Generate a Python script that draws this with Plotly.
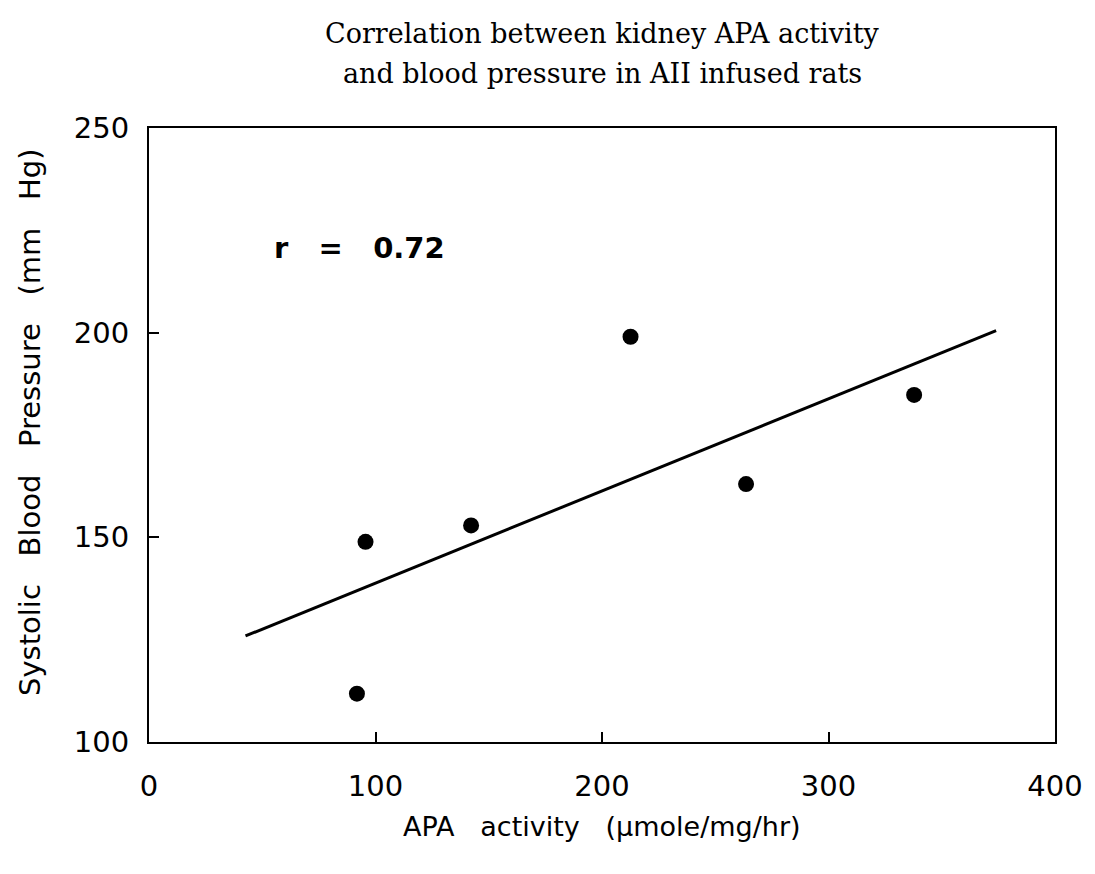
import plotly.graph_objects as go

apa_activity = [91.8, 95.6, 142.2, 212.6, 263.6, 337.8]
systolic_bp = [111.8, 148.9, 152.9, 199.0, 163.0, 184.8]
fit_x = [42.6, 374.0]
fit_y = [125.9, 200.5]
x_ticks = [0, 100, 200, 300, 400]
y_ticks = [100, 150, 200, 250]
r_label = "r   =   0.72"
title_lines = ["Correlation between kidney APA activity",
               "and blood pressure in AII infused rats"]
x_title = "APA activity (\u03bcmole/mg/hr)"
y_title = "Systolic Blood Pressure (mm Hg)"

NB = "\u00a0"

def spaced(s, n):
    return s.replace(" ", NB * n)

fig = go.Figure()
fig.add_trace(go.Scatter(x=fit_x, y=fit_y, mode="lines",
                         line=dict(color="black", width=3), showlegend=False))
fig.add_trace(go.Scatter(x=apa_activity, y=systolic_bp, mode="markers",
                         marker=dict(color="black", size=16), showlegend=False))

tickfont = dict(family="DejaVu Sans", size=29, color="black")
fig.update_layout(
    width=1095, height=874,
    margin=dict(l=149, r=37, t=128, b=132),
    paper_bgcolor="white", plot_bgcolor="white",
    xaxis=dict(range=[0, 400], tickvals=x_ticks, ticks="inside", ticklen=10,
               tickwidth=2, tickcolor="black", showline=True, mirror=True,
               linecolor="black", linewidth=2, showgrid=False, zeroline=False,
               tickfont=tickfont, ticklabelstandoff=17),
    yaxis=dict(range=[100, 250], tickvals=y_ticks, ticks="inside", ticklen=10,
               tickwidth=2, tickcolor="black", showline=True, mirror=True,
               linecolor="black", linewidth=2, showgrid=False, zeroline=False,
               tickfont=tickfont, ticklabelstandoff=12),
    annotations=[
        dict(text=title_lines[0], xref="paper", yref="paper", x=0.5, y=1.0,
             yshift=95, xanchor="center", yanchor="middle", showarrow=False,
             font=dict(family="DejaVu Serif", size=27, color="black")),
        dict(text=title_lines[1], xref="paper", yref="paper", x=0.5, y=1.0,
             yshift=55, xanchor="center", yanchor="middle", showarrow=False,
             font=dict(family="DejaVu Serif", size=27, color="black")),
        dict(text="<b>" + spaced(r_label, 1) + "</b>", x=0.136, y=0.805,
             xref="paper", yref="paper", xanchor="left", yanchor="middle",
             showarrow=False, font=dict(family="DejaVu Sans", size=29, color="black")),
        dict(text=spaced(x_title, 3), xref="paper", yref="paper", x=0.5, y=0,
             yshift=-84, xanchor="center", yanchor="middle", showarrow=False,
             font=dict(family="DejaVu Sans", size=27, color="black")),
        dict(text=spaced(y_title, 3), xref="paper", yref="paper", x=0, xshift=-119,
             y=0.5, yshift=13, xanchor="center", yanchor="middle", textangle=-90,
             showarrow=False, font=dict(family="DejaVu Sans", size=29, color="black")),
    ],
)

fig.write_html("out.html")
